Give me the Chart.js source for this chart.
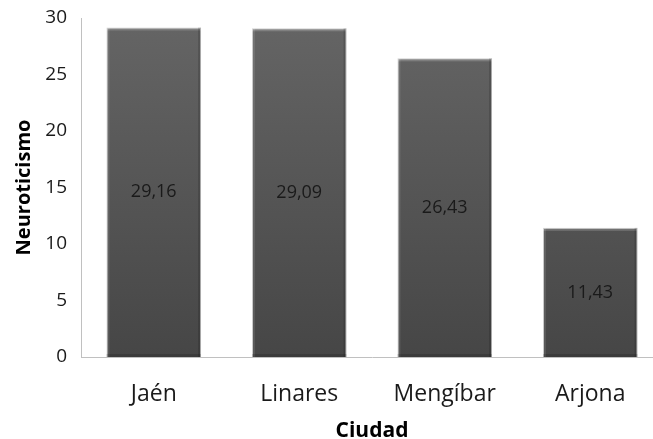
<!DOCTYPE html>
<html>
<head>
<meta charset="utf-8">
<script src="https://cdn.jsdelivr.net/npm/chart.js@4"></script>
<style>
  html, body { margin: 0; padding: 0; background: #fff; overflow: hidden; }
  #wrap { width: 668px; height: 439px; }
</style>
</head>
<body>
<div id="wrap"><canvas id="c" width="668" height="439"></canvas></div>
<script>
  const ciudades = ['Jaén', 'Linares', 'Mengíbar', 'Arjona'];
  const valores  = [29.16, 29.09, 26.43, 11.43];
  const yTicks   = [0, 5, 10, 15, 20, 25, 30];

  const FONT = '"Open Sans", sans-serif';

  // etiquetas dentro de las barras, centradas
  const labelsInside = {
    id: 'labelsInside',
    afterDatasetsDraw(chart) {
      const ctx = chart.ctx;
      const meta = chart.getDatasetMeta(0);
      ctx.save();
      ctx.font = '18px ' + FONT;
      ctx.fillStyle = '#1a1a1a';
      ctx.textAlign = 'center';
      ctx.textBaseline = 'middle';
      meta.data.forEach((bar, i) => {
        const mid = (bar.y + bar.base) / 2;
        ctx.fillText(valores[i].toFixed(2).replace('.', ','), bar.x, mid);
      });
      ctx.restore();
    }
  };

  // borde claro tipo bisel
  const bevel = {
    id: 'bevel',
    afterDatasetsDraw(chart) {
      const ctx = chart.ctx;
      const meta = chart.getDatasetMeta(0);
      ctx.save();
      meta.data.forEach(bar => {
        const l = bar.x - bar.width / 2, r = bar.x + bar.width / 2;
        ctx.fillStyle = 'rgba(255,255,255,0.18)';
        ctx.fillRect(l, bar.y, bar.width, 3);
        ctx.fillStyle = 'rgba(255,255,255,0.10)';
        ctx.fillRect(l, bar.y, 3, bar.base - bar.y);
        ctx.fillStyle = 'rgba(0,0,0,0.15)';
        ctx.fillRect(r - 3, bar.y, 3, bar.base - bar.y);
        ctx.fillRect(l, bar.base - 3, bar.width, 3);
      });
      ctx.restore();
    }
  };

  const ctx = document.getElementById('c').getContext('2d');
  const grad = ctx.createLinearGradient(0, 18, 0, 357);
  grad.addColorStop(0, '#656565');
  grad.addColorStop(1, '#464646');

  new Chart(ctx, {
    type: 'bar',
    data: {
      labels: ciudades,
      datasets: [{
        data: valores,
        backgroundColor: grad,
        borderColor: '#c8c8c8',
        borderWidth: 1,
        barPercentage: 0.65,
        categoryPercentage: 1
      }]
    },
    options: {
      responsive: false,
      animation: false,
      devicePixelRatio: 1,
      layout: { padding: { top: 18, right: 5, left: 12, bottom: 0 } },
      plugins: { legend: { display: false }, tooltip: { enabled: false } },
      scales: {
        x: {
          afterFit: axis => { axis.height = 439 - 357; },
          grid: { display: false, drawTicks: false },
          border: { color: '#c0c0c0', width: 1 },
          ticks: { color: '#1a1a1a', font: { family: FONT, size: 23 }, padding: 24 },
          title: { display: true, text: 'Ciudad', color: '#000', font: { family: FONT, size: 21, weight: 'bold', lineHeight: 0.8 }, padding: { top: 0, bottom: 0 } }
        },
        y: {
          min: 0, max: 30,
          afterBuildTicks: axis => { axis.ticks = yTicks.map(v => ({ value: v })); },
          afterFit: axis => { axis.width = 81 - 12; axis.paddingTop = 0; axis.paddingBottom = 0; },
          grid: { display: false, drawTicks: false },
          border: { color: '#c0c0c0', width: 1 },
          ticks: { color: '#1a1a1a', font: { family: FONT, size: 19 }, padding: 14 },
          title: { display: true, text: 'Neuroticismo', color: '#000', font: { family: FONT, size: 20, weight: 'bold' }, padding: { top: 0, bottom: 8 } }
        }
      }
    },
    plugins: [bevel, labelsInside]
  });
</script>
</body>
</html>
